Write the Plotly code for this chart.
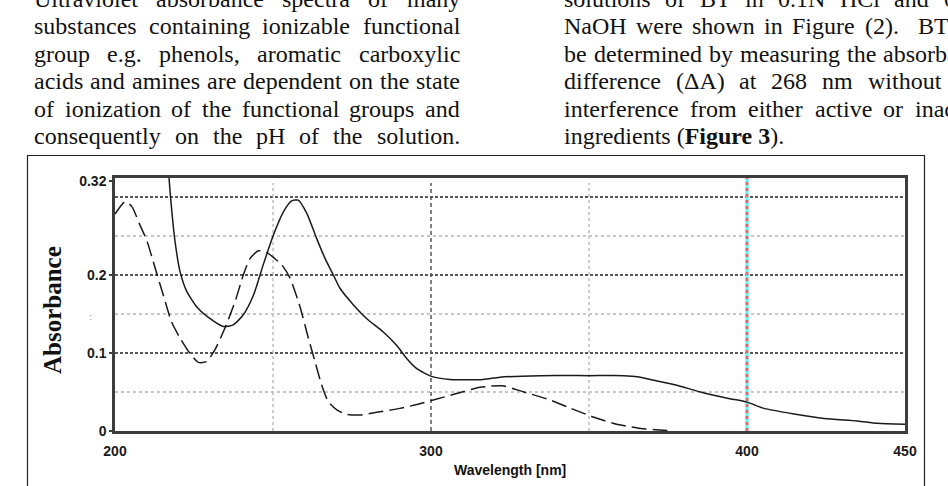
import plotly.graph_objects as go

# ---------------- data ----------------
wl_solid = [216.6, 217.1, 217.7, 219.0, 220.6, 222.7, 225.9, 230.1, 234.3, 237.4, 240.6, 243.8,
            246.9, 250.1, 253.3, 255.9, 258.0, 260.7, 263.8, 266.5, 269.1, 271.2, 275.4, 279.7,
            284.9, 289.1, 292.3, 295.5, 300.2, 306.0, 316.5, 321.8, 334.7, 350.0, 361.0, 365.3,
            370.6, 377.5, 385.3, 393.8, 400.0, 405.4, 414.9, 424.4, 434.9, 441.2, 450.0]
abs_solid = [0.360, 0.324, 0.294, 0.243, 0.204, 0.179, 0.159, 0.144, 0.134, 0.136, 0.149, 0.174,
             0.213, 0.251, 0.281, 0.295, 0.296, 0.279, 0.247, 0.221, 0.200, 0.183, 0.162, 0.144,
             0.127, 0.110, 0.093, 0.080, 0.070, 0.066, 0.066, 0.069, 0.071, 0.071, 0.071, 0.0697,
             0.065, 0.059, 0.050, 0.042, 0.037, 0.029, 0.0218, 0.016, 0.0128, 0.0098, 0.0085]

wl_dash = [200.0, 203.2, 205.3, 207.9, 210.0, 212.7, 215.3, 217.9, 220.6, 223.7, 226.4, 229.0,
           231.6, 234.8, 238.0, 240.6, 242.7, 245.3, 248.0, 250.6, 252.8, 255.4, 258.5, 261.2,
           263.3, 265.4, 267.5, 270.2, 273.3, 277.5, 282.8, 290.2, 295.5, 300.7, 308.1, 315.5,
           322.6, 329.4, 336.8, 343.7, 351.3, 358.1, 365.3, 372.2, 375.0]
abs_dash = [0.278, 0.294, 0.288, 0.264, 0.245, 0.209, 0.174, 0.140, 0.119, 0.0996, 0.088, 0.089,
            0.104, 0.132, 0.166, 0.200, 0.221, 0.231, 0.229, 0.221, 0.213, 0.196, 0.160, 0.119,
            0.089, 0.059, 0.0376, 0.027, 0.0214, 0.0205, 0.024, 0.029, 0.034, 0.0397, 0.048, 0.056,
            0.058, 0.050, 0.041, 0.030, 0.018, 0.0094, 0.0038, 0.0013, 0.0005]

x_tick_vals = [200, 300, 400, 450]
x_tick_text = ["200", "300", "400", "450"]
y_tick_vals = [0, 0.1, 0.2, 0.32]
y_tick_text = ["0", "0.1", "0.2", "0.32"]

grid_y_major = [0.1, 0.2, 0.3]
grid_y_minor = [0.05, 0.15, 0.25]
grid_x_light = [250, 350]
grid_x_dark = [300]
marker_wl = [400]

left_lines = [
    "Ultraviolet absorbance spectra of many",
    "substances containing ionizable functional",
    "group e.g. phenols, aromatic carboxylic",
    "acids and amines are dependent on the state",
    "of ionization of the functional groups and",
    "consequently on the pH of the solution.",
]
right_lines = [
    "solutions of BT in 0.1N HCl and 0.1N",
    "NaOH were shown in Figure (2).  BT can",
    "be determined by measuring the absorbance",
    "difference (\u0394A) at 268 nm without any",
    "interference from either active or inactive",
]
right_last = "ingredients (<b>Figure 3</b>)."

# ---------------- layout helpers ----------------
W, H = 948, 486
PL, PR, PT, PB = 115, 905, 178, 431


def px2x(px):
    return (px - PL) / (PR - PL)


def py2y(py):
    return (PB - py) / (PB - PT)


TIMES = {
    'a': 444, 'b': 500, 'c': 444, 'd': 500, 'e': 444, 'f': 333, 'g': 500, 'h': 500, 'i': 278,
    'j': 278, 'k': 500, 'l': 278, 'm': 778, 'n': 500, 'o': 500, 'p': 500, 'q': 500, 'r': 333,
    's': 389, 't': 278, 'u': 500, 'v': 500, 'w': 722, 'x': 500, 'y': 500, 'z': 444,
    'A': 722, 'B': 667, 'C': 667, 'D': 722, 'E': 611, 'F': 556, 'G': 722, 'H': 722, 'I': 333,
    'J': 389, 'K': 722, 'L': 611, 'M': 889, 'N': 722, 'O': 722, 'P': 556, 'Q': 722, 'R': 667,
    'S': 556, 'T': 611, 'U': 722, 'V': 722, 'W': 944, 'X': 722, 'Y': 722, 'Z': 611,
    '.': 250, ',': 250, '(': 333, ')': 333, ' ': 250, '\u0394': 612,
}
FS = 24


def wwidth(w):
    return sum(TIMES.get(c, 500) for c in w) * FS / 1000.0


annotations = []
TEXT_FONT = dict(family="Liberation Serif, Times New Roman, serif", size=FS, color="#111")


def add_justified(line, x0, width, baseline):
    words = line.split(" ")
    widths = [wwidth(w) for w in words]
    gaps = len(words) - 1
    gap = (width - sum(widths)) / gaps if gaps else 0
    x = x0
    cy = baseline - 0.3 * FS
    for w, ww in zip(words, widths):
        if w:
            annotations.append(dict(text=w, x=px2x(x), y=py2y(cy), xref="paper", yref="paper",
                                    xanchor="left", yanchor="middle", showarrow=False,
                                    borderpad=0, font=TEXT_FONT))
        x += ww + gap


PITCH = 27.45
BASE0 = 6.0
for i, ln in enumerate(left_lines):
    add_justified(ln, 33, 426, BASE0 + i * PITCH)
for i, ln in enumerate(right_lines):
    add_justified(ln, 563, 427, BASE0 + i * PITCH)
annotations.append(dict(text=right_last, x=px2x(563), y=py2y(BASE0 + 5 * PITCH - 0.3 * FS),
                        xref="paper", yref="paper", xanchor="left", yanchor="middle",
                        showarrow=False, borderpad=0, font=TEXT_FONT))

SANS = "Liberation Sans, Arial, sans-serif"

annotations.append(dict(text="<b>Absorbance</b>", textangle=-90, x=px2x(52), y=py2y(310),
                        xref="paper", yref="paper", xanchor="center", yanchor="middle",
                        showarrow=False, font=dict(family="Liberation Serif, Times New Roman, serif",
                                                   size=25, color="#111")))
annotations.append(dict(text="<b>Wavelength [nm]</b>", x=px2x(510), y=py2y(470),
                        xref="paper", yref="paper", xanchor="center", yanchor="middle",
                        showarrow=False, font=dict(family=SANS, size=14, color="#111")))
annotations.append(dict(text=":", x=px2x(87), y=py2y(317), xref="paper", yref="paper",
                        showarrow=False, font=dict(family="DejaVu Sans", size=9, color="#999")))

shapes = []
for v in grid_y_minor:
    shapes.append(dict(type="line", xref="paper", yref="y", x0=0, x1=1, y0=v, y1=v, layer="below",
                       line=dict(color="#b4b4b4", width=1.5, dash="3px,3px")))
for v in grid_y_major:
    shapes.append(dict(type="line", xref="paper", yref="y", x0=0, x1=1, y0=v, y1=v, layer="below",
                       line=dict(color="#222", width=1.5, dash="3px,2px")))
for v in grid_x_light:
    shapes.append(dict(type="line", xref="x", yref="paper", x0=v, x1=v, y0=0, y1=0.98, layer="below",
                       line=dict(color="#bdbdbd", width=1.5, dash="3px,3px")))
for v in grid_x_dark:
    shapes.append(dict(type="line", xref="x", yref="paper", x0=v, x1=v, y0=0, y1=0.98, layer="below",
                       line=dict(color="#555", width=1.5, dash="4px,3px")))
for v in marker_wl:
    shapes.append(dict(type="line", xref="x", yref="paper", x0=v, x1=v, y0=0, y1=1, layer="below",
                       line=dict(color="#5ff0f0", width=3)))
    shapes.append(dict(type="line", xref="x", yref="paper", x0=v, x1=v, y0=0, y1=1, layer="below",
                       line=dict(color="#e07070", width=3, dash="3px,3px")))

# outer figure frame
shapes.append(dict(type="rect", xref="paper", yref="paper", x0=px2x(27.5), x1=px2x(924.5),
                   y0=py2y(500), y1=py2y(155.5), line=dict(color="#222", width=1.2),
                   fillcolor="rgba(0,0,0,0)", layer="above"))

fig = go.Figure()
fig.add_trace(go.Scatter(x=wl_solid, y=abs_solid, mode="lines",
                         line=dict(color="#1a1a1a", width=1.5, shape="spline", smoothing=0.6),
                         hoverinfo="skip", showlegend=False))
fig.add_trace(go.Scatter(x=wl_dash, y=abs_dash, mode="lines",
                         line=dict(color="#1a1a1a", width=1.5, shape="spline", smoothing=0.6,
                                   dash="15px,6px"),
                         hoverinfo="skip", showlegend=False))

TICKFONT = dict(family=SANS, size=14, color="#1a1a1a", weight="bold")

fig.update_layout(
    width=W, height=H,
    margin=dict(l=PL, r=W - PR, t=PT, b=H - PB, pad=0),
    paper_bgcolor="white", plot_bgcolor="white",
    showlegend=False,
    annotations=annotations,
    shapes=shapes,
    xaxis=dict(range=[200, 450], tickvals=x_tick_vals, ticktext=x_tick_text,
               showgrid=False, zeroline=False, showline=True, mirror=True,
               linecolor="#3c3c3c", linewidth=2.5, ticks="", ticklabelstandoff=5,
               tickfont=TICKFONT),
    yaxis=dict(range=[0, 0.3244], tickvals=y_tick_vals, ticktext=y_tick_text,
               showgrid=False, zeroline=False, showline=True, mirror=True,
               linecolor="#3c3c3c", linewidth=2.5, ticks="outside", ticklen=3,
               tickcolor="#3c3c3c", tickwidth=1.5,
               tickfont=TICKFONT),
)

fig.write_html("out.html")
